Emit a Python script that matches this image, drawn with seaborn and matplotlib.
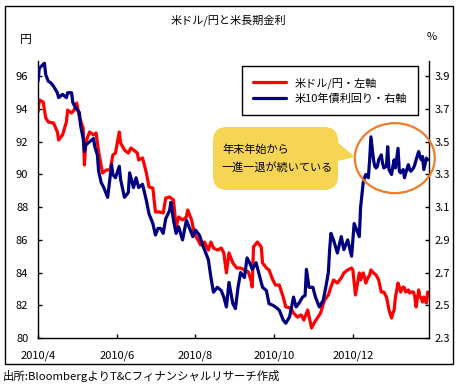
import matplotlib
matplotlib.use("Agg")
import matplotlib.pyplot as plt
import matplotlib.dates as mdates
import matplotlib.transforms as mtransforms
from matplotlib.patches import Ellipse, FancyBboxPatch, Polygon, Rectangle
import pandas as pd
import seaborn as sns

# --- data ---
usd_dates = [
    "2010-04-01", "2010-04-02", "2010-04-05", "2010-04-07", "2010-04-09", "2010-04-13", "2010-04-16",
    "2010-04-17", "2010-04-20", "2010-04-23", "2010-04-24", "2010-04-27", "2010-04-29", "2010-05-01",
    "2010-05-03", "2010-05-06", "2010-05-07", "2010-05-08", "2010-05-11", "2010-05-14", "2010-05-16",
    "2010-05-18", "2010-05-21", "2010-05-24", "2010-05-27", "2010-05-29", "2010-05-31", "2010-06-03",
    "2010-06-04", "2010-06-07", "2010-06-10", "2010-06-12", "2010-06-14", "2010-06-17", "2010-06-18",
    "2010-06-21", "2010-06-24", "2010-06-26", "2010-06-29", "2010-06-30", "2010-07-01", "2010-07-04",
    "2010-07-07", "2010-07-09", "2010-07-12", "2010-07-15", "2010-07-17", "2010-07-19", "2010-07-22",
    "2010-07-25", "2010-07-26", "2010-07-29", "2010-07-31", "2010-08-03", "2010-08-05", "2010-08-08",
    "2010-08-11", "2010-08-13", "2010-08-15", "2010-08-18", "2010-08-21", "2010-08-23", "2010-08-25",
    "2010-08-27", "2010-08-30", "2010-09-02", "2010-09-05", "2010-09-08", "2010-09-11", "2010-09-13",
    "2010-09-14", "2010-09-15", "2010-09-18", "2010-09-21", "2010-09-22", "2010-09-25", "2010-09-27",
    "2010-09-30", "2010-10-02", "2010-10-05", "2010-10-08", "2010-10-10", "2010-10-14", "2010-10-16",
    "2010-10-19", "2010-10-22", "2010-10-24", "2010-10-27", "2010-10-30", "2010-11-01", "2010-11-04",
    "2010-11-06", "2010-11-09", "2010-11-12", "2010-11-14", "2010-11-16", "2010-11-19", "2010-11-22",
    "2010-11-24", "2010-11-27", "2010-11-30", "2010-12-01", "2010-12-03", "2010-12-06", "2010-12-07",
    "2010-12-09", "2010-12-10", "2010-12-11", "2010-12-13", "2010-12-14", "2010-12-15", "2010-12-17",
    "2010-12-19", "2010-12-21", "2010-12-23", "2010-12-25", "2010-12-27", "2010-12-28", "2010-12-29",
    "2010-12-31", "2011-01-01", "2011-01-02", "2011-01-03", "2011-01-05", "2011-01-06", "2011-01-07",
    "2011-01-09", "2011-01-10", "2011-01-11", "2011-01-13", "2011-01-14", "2011-01-15", "2011-01-17",
    "2011-01-18", "2011-01-19", "2011-01-21", "2011-01-22", "2011-01-23", "2011-01-24", "2011-01-25",
    "2011-01-27", "2011-01-28",
]
usd_jpy = [
    93.82, 94.56, 94.43, 93.46, 93.21, 93.15, 92.60,
    92.11, 92.42, 93.21, 93.94, 93.76, 93.94, 94.37,
    93.52, 92.84, 90.58, 91.99, 92.60, 92.42, 92.54,
    91.38, 90.09, 90.28, 90.28, 91.19, 91.31, 92.60,
    91.93, 91.50, 91.31, 91.62, 91.50, 91.31, 90.89,
    91.01, 90.09, 89.24, 89.17, 88.44, 87.71, 87.71,
    87.65, 88.56, 88.62, 88.44, 86.79, 87.40, 87.22,
    87.40, 87.83, 87.22, 86.42, 85.99, 85.69, 85.87,
    85.38, 85.87, 85.50, 85.38, 85.50, 85.20, 83.98,
    85.20, 84.59, 84.28, 84.28, 84.16, 84.04, 83.55,
    83.12, 85.57, 85.87, 85.57, 84.59, 84.28, 84.16,
    83.55, 83.24, 83.24, 82.51, 81.90, 81.83, 81.53,
    81.28, 81.41, 81.10, 81.71, 80.61, 80.92, 81.28,
    81.53, 82.32, 82.63, 83.12, 83.55, 83.36, 83.67,
    83.98, 84.16, 84.28, 84.16, 82.63, 83.98, 83.55,
    83.98, 83.73, 83.36, 83.73, 83.85, 84.16, 83.98,
    83.85, 83.55, 82.81, 82.81, 82.51, 82.14, 81.71,
    81.22, 81.53, 81.71, 82.51, 83.36, 83.12, 82.81,
    83.12, 83.06, 82.81, 82.94, 82.75, 82.81, 82.81,
    82.51, 81.90, 82.94, 82.51, 82.45, 82.20, 82.51,
    82.14, 82.81,
]

ust_dates = [
    "2010-04-01", "2010-04-02", "2010-04-06", "2010-04-07", "2010-04-09", "2010-04-11", "2010-04-13",
    "2010-04-16", "2010-04-17", "2010-04-20", "2010-04-23", "2010-04-24", "2010-04-27", "2010-04-28",
    "2010-04-30", "2010-05-03", "2010-05-04", "2010-05-06", "2010-05-07", "2010-05-08", "2010-05-11",
    "2010-05-14", "2010-05-15", "2010-05-17", "2010-05-18", "2010-05-20", "2010-05-22", "2010-05-25",
    "2010-05-28", "2010-05-29", "2010-05-31", "2010-06-03", "2010-06-04", "2010-06-07", "2010-06-10",
    "2010-06-11", "2010-06-14", "2010-06-16", "2010-06-18", "2010-06-21", "2010-06-24", "2010-06-26",
    "2010-06-29", "2010-07-01", "2010-07-03", "2010-07-05", "2010-07-07", "2010-07-09", "2010-07-12",
    "2010-07-13", "2010-07-15", "2010-07-17", "2010-07-19", "2010-07-22", "2010-07-25", "2010-07-27",
    "2010-07-30", "2010-08-01", "2010-08-04", "2010-08-07", "2010-08-11", "2010-08-13", "2010-08-15",
    "2010-08-18", "2010-08-21", "2010-08-23", "2010-08-25", "2010-08-27", "2010-08-30", "2010-09-01",
    "2010-09-03", "2010-09-05", "2010-09-08", "2010-09-10", "2010-09-12", "2010-09-14", "2010-09-17",
    "2010-09-19", "2010-09-22", "2010-09-25", "2010-09-27", "2010-09-30", "2010-10-02", "2010-10-05",
    "2010-10-08", "2010-10-10", "2010-10-13", "2010-10-16", "2010-10-18", "2010-10-20", "2010-10-23",
    "2010-10-25", "2010-10-26", "2010-10-28", "2010-10-31", "2010-11-02", "2010-11-05", "2010-11-08",
    "2010-11-10", "2010-11-12", "2010-11-13", "2010-11-14", "2010-11-16", "2010-11-19", "2010-11-22",
    "2010-11-24", "2010-11-27", "2010-11-30", "2010-12-02", "2010-12-05", "2010-12-06", "2010-12-07",
    "2010-12-09", "2010-12-10", "2010-12-11", "2010-12-13", "2010-12-14", "2010-12-15", "2010-12-17",
    "2010-12-18", "2010-12-19", "2010-12-20", "2010-12-21", "2010-12-23", "2010-12-24", "2010-12-25",
    "2010-12-27", "2010-12-28", "2010-12-29", "2010-12-31", "2011-01-01", "2011-01-02", "2011-01-03",
    "2011-01-05", "2011-01-06", "2011-01-07", "2011-01-09", "2011-01-10", "2011-01-11", "2011-01-13",
    "2011-01-14", "2011-01-15", "2011-01-17", "2011-01-18", "2011-01-19", "2011-01-21", "2011-01-22",
    "2011-01-23", "2011-01-24", "2011-01-25", "2011-01-27", "2011-01-28",
]
ust_10y = [
    3.87, 3.95, 3.98, 3.91, 3.87, 3.86, 3.84,
    3.80, 3.77, 3.79, 3.77, 3.80, 3.80, 3.74,
    3.71, 3.68, 3.60, 3.52, 3.44, 3.48, 3.50,
    3.52, 3.47, 3.42, 3.32, 3.25, 3.22, 3.16,
    3.36, 3.30, 3.28, 3.35, 3.27, 3.16, 3.19,
    3.31, 3.22, 3.28, 3.22, 3.24, 3.14, 3.06,
    3.00, 2.93, 2.97, 2.97, 2.94, 3.03, 3.08,
    3.13, 3.02, 2.94, 2.98, 2.90, 3.02, 2.98,
    2.92, 2.96, 2.93, 2.86, 2.78, 2.67, 2.58,
    2.61, 2.59, 2.55, 2.49, 2.64, 2.51, 2.48,
    2.61, 2.70, 2.67, 2.79, 2.76, 2.72, 2.76,
    2.70, 2.61, 2.59, 2.51, 2.50, 2.49, 2.47,
    2.41, 2.39, 2.43, 2.55, 2.49, 2.51, 2.55,
    2.56, 2.72, 2.61, 2.61, 2.55, 2.49, 2.53,
    2.61, 2.70, 2.84, 2.94, 2.90, 2.82, 2.92,
    2.84, 2.90, 2.80, 3.00, 2.94, 2.92, 3.10,
    3.25, 3.28, 3.30, 3.28, 3.39, 3.53, 3.39,
    3.35, 3.34, 3.35, 3.39, 3.42, 3.37, 3.34,
    3.35, 3.47, 3.33, 3.30, 3.35, 3.39, 3.34,
    3.46, 3.32, 3.31, 3.33, 3.28, 3.31, 3.36,
    3.33, 3.32, 3.34, 3.36, 3.39, 3.44, 3.41,
    3.39, 3.41, 3.33, 3.40, 3.39,
]

x_tick_dates = ["2010-04-01", "2010-06-01", "2010-08-01", "2010-10-01", "2010-12-01"]
x_tick_labels = ["2010/4", "2010/6", "2010/8", "2010/10", "2010/12"]
left_ticks = [80, 82, 84, 86, 88, 90, 92, 94, 96]
right_ticks = [2.3, 2.5, 2.7, 2.9, 3.1, 3.3, 3.5, 3.7, 3.9]

W, H = 463, 389

sns.set_theme(style="white")
plt.rcParams["font.family"] = ["Noto Sans CJK JP", "DejaVu Sans"]
plt.rcParams["text.color"] = "black"
plt.rcParams["axes.edgecolor"] = "black"
plt.rcParams["xtick.color"] = "black"
plt.rcParams["ytick.color"] = "black"

fig = plt.figure(figsize=(W / 100, H / 100), dpi=100)
ax = fig.add_axes([38 / W, 1 - 338 / H, (429 - 38) / W, (338 - 61) / H])
ax2 = ax.twinx()

sns.lineplot(x=pd.to_datetime(usd_dates), y=usd_jpy, ax=ax, color="#ff0000",
             linewidth=2.3, legend=False)
sns.lineplot(x=pd.to_datetime(ust_dates), y=ust_10y, ax=ax2, color="#000080",
             linewidth=2.3, legend=False)

ax.set_xlim(pd.Timestamp("2010-04-01"), pd.Timestamp("2011-01-29"))
ax.set_ylim(80, 96.94)
ax2.set_ylim(2.3, 3.994)

ax.set_xticks(pd.to_datetime(x_tick_dates))
ax.set_xticklabels(x_tick_labels)
ax.set_yticks(left_ticks)
ax.set_yticklabels([str(v) for v in left_ticks])
ax2.set_yticks(right_ticks)
ax2.set_yticklabels([f"{v:.1f}" for v in right_ticks])
for a in (ax, ax2):
    a.set_xlabel("")
    a.set_ylabel("")
    a.spines["top"].set_visible(False)
    for s in a.spines.values():
        s.set_linewidth(1.0)
        s.set_color("black")
ax.spines["right"].set_visible(False)
ax2.spines["left"].set_visible(False)
ax2.spines["bottom"].set_visible(False)

ax.tick_params(axis="x", direction="in", length=3, width=1, labelsize=8, pad=9, bottom=True)
ax.tick_params(axis="y", direction="in", length=3, width=1, labelsize=8, pad=7, left=True)
ax2.tick_params(axis="y", direction="in", length=3, width=1, labelsize=8, pad=4, right=True)

# legend
handles = [ax.get_lines()[0], ax2.get_lines()[0]]
leg = ax2.legend(handles, ["米ドル/円・左軸", "米10年債利回り・右軸"],
                 loc="upper left", bbox_to_anchor=(242 / W, 1 - 66 / H),
                 bbox_transform=fig.transFigure, frameon=True, fancybox=False,
                 edgecolor="black", framealpha=1, fontsize=8, handlelength=3.0,
                 handletextpad=0.7, borderpad=1.0, labelspacing=0.4, borderaxespad=0)
leg.get_frame().set_linewidth(1.0)

# texts
fig.text(228 / W, 1 - 20 / H, "米ドル/円と米長期金利", ha="center", va="center", fontsize=8)
fig.text(26 / W, 1 - 39 / H, "円", ha="center", va="center", fontsize=8.5)
fig.text(432 / W, 1 - 37 / H, "%", ha="center", va="center", fontsize=8)
fig.text(3 / W, 1 - 376 / H, "出所:BloombergよりT&Cフィナンシャルリサーチ作成",
         ha="left", va="center", fontsize=8.2)

# outer frame
fig.add_artist(Rectangle((5 / W, 1 - 364 / H), 448 / W, 358 / H, transform=fig.transFigure,
                         fill=False, ec="black", lw=1.0))

# callout
px = mtransforms.Affine2D().scale(1 / W, -1 / H).translate(0, 1) + fig.transFigure
fig.add_artist(FancyBboxPatch((213, 127), 125, 63, boxstyle="round,pad=0,rounding_size=14",
                              transform=px, fc="#f6d554", ec="none"))
fig.add_artist(Polygon([(322, 129), (355, 157), (338, 161)], closed=True, transform=px,
                       fc="#f6d554", ec="none"))
fig.text(222 / W, 1 - 150 / H, "年末年始から", ha="left", va="center", fontsize=8)
fig.text(222 / W, 1 - 167 / H, "一進一退が続いている", ha="left", va="center", fontsize=8)

# orange circle around recent range
ax2.add_patch(Ellipse((mdates.date2num(pd.Timestamp("2011-01-02 12:00")), 3.40), width=62,
                      height=0.428, fill=False, ec="#f07b2a", lw=1.6, clip_on=False, zorder=5))

fig.savefig("out.png", dpi=100)
